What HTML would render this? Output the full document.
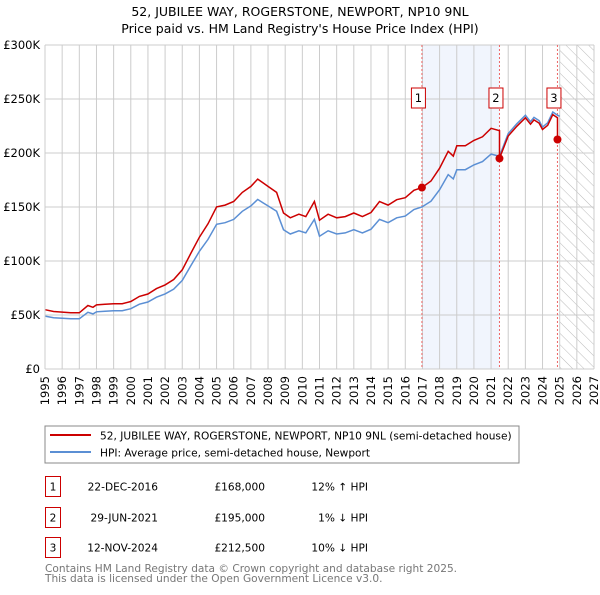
<!DOCTYPE html>
<html><head><meta charset="utf-8"><style>
body{margin:0;background:#fff;font-family:"Liberation Sans","DejaVu Sans",sans-serif}
svg text{font-family:"DejaVu Sans","Liberation Sans",sans-serif}
</style></head><body>
<svg id="c" width="600" height="590" viewBox="0 0 600 590" xmlns="http://www.w3.org/2000/svg">
<defs><pattern id="hatch" width="8" height="8" patternUnits="userSpaceOnUse" patternTransform="rotate(-45)"><line x1="0" y1="0" x2="0" y2="8" stroke="#bbb" stroke-width="1"/></pattern></defs>
<text x="300" y="16" text-anchor="middle" font-size="12.5">52, JUBILEE WAY, ROGERSTONE, NEWPORT, NP10 9NL</text>
<text x="300" y="33" text-anchor="middle" font-size="12.5">Price paid vs. HM Land Registry's House Price Index (HPI)</text>
<g id="plot"></g>
<rect x="45" y="426" width="474" height="37" fill="#fff" stroke="#888"/>
<line x1="50" y1="435" x2="91" y2="435" stroke="#cc0000" stroke-width="2"/>
<text x="100" y="439.5" font-size="10.6">52, JUBILEE WAY, ROGERSTONE, NEWPORT, NP10 9NL (semi-detached house)</text>
<line x1="50" y1="452" x2="91" y2="452" stroke="#5b8fd4" stroke-width="2"/>
<text x="100" y="456.5" font-size="10.6">HPI: Average price, semi-detached house, Newport</text>
<g id="table" font-size="10.6"></g>
<text x="45" y="572" font-size="10.6" fill="#777">Contains HM Land Registry data © Crown copyright and database right 2025.</text>
<text x="45" y="582" font-size="10.6" fill="#777">This data is licensed under the Open Government Licence v3.0.</text>
</svg>
<script>
const hpiYears=[1995,1995.5,1996,1996.5,1997,1997.5,1997.8,1998,1998.5,1999,1999.5,2000,2000.5,2001,2001.5,2002,2002.5,2003,2003.5,2004,2004.5,2005,2005.5,2006,2006.5,2007,2007.4,2007.7,2008,2008.5,2008.9,2009.3,2009.8,2010.2,2010.7,2011,2011.5,2012,2012.5,2013,2013.5,2014,2014.5,2015,2015.5,2016,2016.5,2016.97,2017.5,2018,2018.5,2018.8,2019,2019.5,2020,2020.5,2021,2021.49,2022,2022.5,2023,2023.3,2023.5,2023.8,2024,2024.3,2024.6,2024.87,2025];
const hpiValues=[49,47.5,47,46.5,46.5,52.5,51,53,53.5,54,54,55.8,60,62,66.5,69.5,74,82,95.6,109,120,134,135.5,138.5,146,151,157,154,151,146,129,125,128,126,138.5,123,128,125,126,129,126,129.4,138.5,135.5,140,141.6,147.7,150,155.4,166,180,176,184.5,184.5,189,192,199,197,218,227,235,229,233,230,224,228,238,235,234];
const saleYears=[2016.97,2021.49,2024.87];
const salePrices=[168,195,212.5];
const saleDates=["22-DEC-2016","29-JUN-2021","12-NOV-2024"];
const saleLabels=["£168,000","£195,000","£212,500"];
const saleHpi=["12% ↑ HPI","1% ↓ HPI","10% ↓ HPI"];
const yTicks=[0,50,100,150,200,250,300];
const yTickLabels=["£0","£50K","£100K","£150K","£200K","£250K","£300K"];
const xTicks=[];for(let y=1995;y<=2027;y++)xTicks.push(y);

const X0=45,X1=594,Y0=369,Y1=45;
const xs=y=>X0+(y-1995)/32*(X1-X0);
const ys=v=>Y0-v/300*(Y0-Y1);
const NS="http://www.w3.org/2000/svg";
const plot=document.getElementById('plot');
function mk(tag,attrs,parent){const e=document.createElementNS(NS,tag);for(const k in attrs)e.setAttribute(k,attrs[k]);(parent||plot).appendChild(e);return e;}
function hpiAt(t){for(let i=1;i<hpiYears.length;i++){if(t<=hpiYears[i]){const f=(t-hpiYears[i-1])/(hpiYears[i]-hpiYears[i-1]);return hpiValues[i-1]+f*(hpiValues[i]-hpiValues[i-1]);}}return hpiValues[hpiValues.length-1];}

let e=mk('rect',{x:xs(saleYears[0]),y:Y1,width:xs(saleYears[1])-xs(saleYears[0]),height:Y0-Y1,fill:'#eef3fc',opacity:0.8});


e=mk('rect',{x:xs(2025),y:Y1,width:X1-xs(2025),height:Y0-Y1,fill:'url(#hatch)'});


xTicks.forEach(t=>{
 const l=mk('line',{x1:xs(t),x2:xs(t),y1:Y1,y2:Y0,stroke:'#ccc','stroke-width':1});
 
 
 const x=xs(t)+4,y=376;
 const tx=mk('text',{x:x,y:y,'text-anchor':'end','font-size':11.5,transform:'rotate(-90 '+x+' '+y+')'});
 tx.textContent=t;
 
 
});
yTicks.forEach((v,i)=>{
 const l=mk('line',{x1:X0,x2:X1,y1:ys(v),y2:ys(v),stroke:'#ccc','stroke-width':1});
 
 
 const tx=mk('text',{x:X0-5,y:ys(v)+4,'text-anchor':'end','font-size':11.5});
 tx.textContent=yTickLabels[i];
 
 
});
saleYears.forEach((t,i)=>{
 const l=mk('line',{x1:xs(t),x2:xs(t),y1:Y1,y2:Y0,stroke:'#e66','stroke-width':1,'stroke-dasharray':'2,2'});
 
 
});
let d='';hpiYears.forEach((t,i)=>{d+=(i?'L':'M')+xs(t).toFixed(1)+','+ys(hpiValues[i]).toFixed(1);});
e=mk('path',{d:d,fill:'none',stroke:'#5b8fd4','stroke-width':1.5});


let pd='';
const pts=[];
hpiYears.forEach(t=>{if(t<=saleYears[2])pts.push(t);});
saleYears.forEach(t=>{if(pts.indexOf(t)<0)pts.push(t);});
pts.sort((a,b)=>a-b);
let started=false;
pts.forEach(t=>{
 let k=0;for(let i=0;i<saleYears.length;i++)if(t>=saleYears[i])k=i;
 let r=salePrices[k]/hpiAt(saleYears[k]);
 if(t<saleYears[0])r=salePrices[0]/hpiAt(saleYears[0]);
 const si=saleYears.indexOf(t);
 if(si>0){const rp=salePrices[si-1]/hpiAt(saleYears[si-1]);pd+='L'+xs(t).toFixed(1)+','+ys(hpiAt(t)*rp).toFixed(1);}
 pd+=(started?'L':'M')+xs(t).toFixed(1)+','+ys(hpiAt(t)*r).toFixed(1);started=true;
});
e=mk('path',{d:pd,fill:'none',stroke:'#cc0000','stroke-width':1.5});


saleYears.forEach((t,i)=>{
 const c=mk('circle',{cx:xs(t),cy:ys(salePrices[i]),r:4,fill:'#cc0000'});
 
 
 const bx=xs(t)-10.5;
 const b=mk('rect',{x:bx,y:88,width:14,height:20,fill:'#fff',stroke:'#cc0000'});
 
 
 const tx=mk('text',{x:bx+7,y:102,'text-anchor':'middle','font-size':11.5});
 tx.textContent=i+1;
 
 
});
e=mk('line',{x1:X0,x2:X0,y1:Y1,y2:Y0,stroke:'#ccc'});


const tbl=document.getElementById('table');
const rowY=[476,507,537];
saleYears.forEach((t,i)=>{
 const b=mk('rect',{x:45.5,y:rowY[i]+0.5,width:15,height:20,fill:'#fff',stroke:'#cc0000'},tbl);
 
 
 const vals=[[53,String(i+1),'middle'],[158,saleDates[i],'end'],[265,saleLabels[i],'end'],[368,saleHpi[i],'end']];
 vals.forEach((v,j)=>{
  const tx=mk('text',{x:v[0],y:rowY[i]+14.5,'text-anchor':v[2]},tbl);
  tx.textContent=v[1];
  
  
 });
});
</script>
</body></html>
